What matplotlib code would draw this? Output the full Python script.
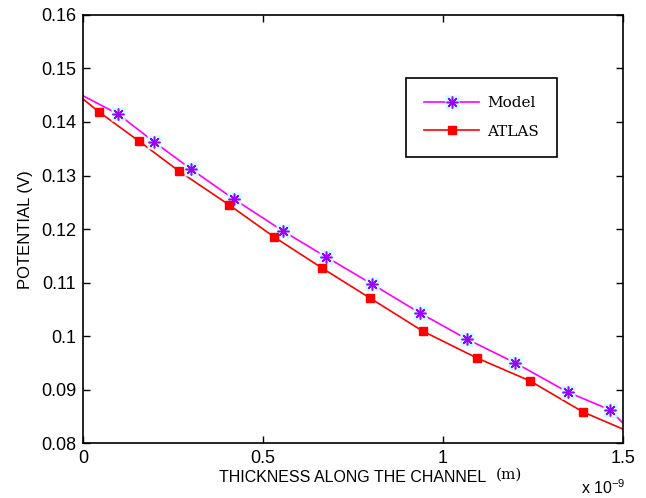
import matplotlib.pyplot as plt
from matplotlib.lines import Line2D

# values (x in units of 1e-9 m)
model_x = [0.097, 0.197, 0.300, 0.419, 0.556, 0.675, 0.803, 0.936, 1.067, 1.200, 1.347, 1.464]
model_y = [0.1415, 0.1363, 0.1312, 0.1256, 0.1196, 0.1148, 0.1097, 0.1043, 0.0994, 0.0950, 0.0895, 0.0862]
atlas_x = [0.044, 0.156, 0.267, 0.406, 0.531, 0.664, 0.797, 0.944, 1.094, 1.242, 1.389]
atlas_y = [0.1419, 0.1364, 0.1308, 0.1245, 0.1185, 0.1127, 0.1071, 0.1009, 0.0959, 0.0916, 0.0858]

# curve end values at x = 0 and x = 1.5
model_ends = [0.1449, 0.0837]
atlas_ends = [0.1443, 0.0826]

model_lx = [0.0] + model_x + [1.5]
model_ly = [model_ends[0]] + model_y + [model_ends[1]]
atlas_lx = [0.0] + atlas_x + [1.5]
atlas_ly = [atlas_ends[0]] + atlas_y + [atlas_ends[1]]

star = (8, 2, 0)

fig = plt.figure(figsize=(6.46, 4.98), dpi=100)
ax = fig.add_axes([0.1285, 0.1104, 0.8359, 0.8595])

ax.plot(model_lx, model_ly, color='#ff00ff', lw=1.2, zorder=2)
ax.plot(atlas_lx, atlas_ly, color='#ff0000', lw=1.2, zorder=2)
ax.plot(model_x, model_y, ls='none', marker='s', ms=9.5, color='#ccffff', mec='none', zorder=3)
ax.plot(model_x, model_y, ls='none', marker=star, ms=8.5, color='#9900ff', mew=1.1, zorder=4)
ax.plot(atlas_x, atlas_y, ls='none', marker='s', ms=5.5, color='#ff0000', zorder=4)

# legend proxies
h1 = (Line2D([], [], color='#ff00ff', lw=1.2, marker='s', ms=9.5, mfc='#ccffff', mec='none'),
      Line2D([], [], ls='none', marker=star, ms=8.5, color='#9900ff', mew=1.1))
h2 = Line2D([], [], color='#ff0000', lw=1.2, marker='s', ms=5.5)
leg = ax.legend([h1, h2], ['Model', 'ATLAS'], loc='upper left',
                bbox_to_anchor=(0.598, 0.853), prop={'family': 'DejaVu Serif', 'size': 11},
                fancybox=False, edgecolor='black', framealpha=1, handlelength=3.6,
                handletextpad=0.5, borderpad=1.2, labelspacing=0.95, borderaxespad=0)
leg.get_frame().set_linewidth(1.2)

ax.set_xlim(0, 1.5)
ax.set_ylim(0.08, 0.16)
ax.set_xticks([0, 0.5, 1, 1.5])
ax.set_xticklabels(['0', '0.5', '1', '1.5'])
ax.set_yticks([0.08, 0.09, 0.1, 0.11, 0.12, 0.13, 0.14, 0.15, 0.16])
ax.set_yticklabels(['0.08', '0.09', '0.1', '0.11', '0.12', '0.13', '0.14', '0.15', '0.16'])
ax.tick_params(direction='in', top=True, right=True, length=5, width=1,
               labelsize=13, pad=5)
for lab in ax.get_xticklabels() + ax.get_yticklabels():
    lab.set_family('Liberation Sans')
for s in ax.spines.values():
    s.set_linewidth(1.2)

fig.text(0.752, 0.042, 'THICKNESS ALONG THE CHANNEL', ha='right', va='center',
         family='Liberation Sans', fontsize=11.5)
fig.text(0.768, 0.046, '(m)', ha='left', va='center', family='DejaVu Serif', fontsize=11)
fig.text(0.04, 0.538, 'POTENTIAL (V)', rotation=90, ha='center', va='center',
         family='Liberation Sans', fontsize=12)
fig.text(0.9, 0.02, r'x 10$^{\mathregular{-9}}$', ha='left', va='center',
         family='Liberation Sans', fontsize=11.5)

fig.savefig('out.png', dpi=100)
